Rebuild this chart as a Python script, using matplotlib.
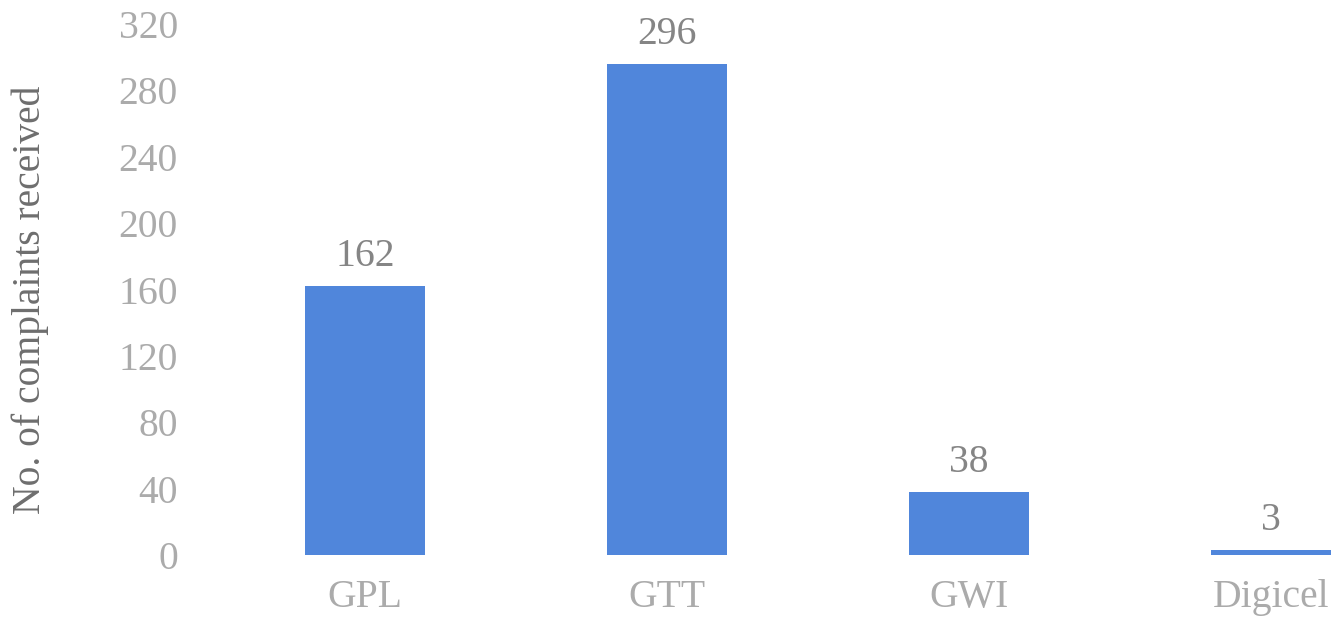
import matplotlib
matplotlib.use("Agg")
import matplotlib.pyplot as plt

categories = ["GPL", "GTT", "GWI", "Digicel"]
values = [162, 296, 38, 3]
yticks = [0, 40, 80, 120, 160, 200, 240, 280, 320]

plt.rcParams['font.family'] = ['Liberation Serif', 'DejaVu Serif']

fig = plt.figure(figsize=(13.37, 6.26), dpi=100)
W, H = 1337, 626
left, right = 214, 1337
bottom, top = 555, 24
ax = fig.add_axes([left / W, 1 - bottom / H, (right - left) / W, (bottom - top) / H])

x = list(range(len(categories)))
bars = ax.bar(x, values, width=0.4, color='#5086db')
ax.set_xlim(-0.5, 3 + (1337 - 1271) / 302)
ax.set_ylim(0, 320)
ax.set_yticks(yticks)
ax.set_xticks(x)
ax.set_xticklabels(categories)
for s in ax.spines.values():
    s.set_visible(False)
ax.tick_params(axis='y', length=0, pad=26, labelsize=28.5, labelcolor='#ababab')
ax.tick_params(axis='x', length=0, pad=17, labelsize=28.5, labelcolor='#ababab')

for xi, v in zip(x, values):
    ax.annotate(str(v), (xi, v), xytext=(0, 8), textcoords='offset points',
                ha='center', va='bottom', fontsize=28.5, color='#858585')

fig.text(30 / W, 1 - 300 / H, "No. of complaints received", rotation=90,
         ha='center', va='center', fontsize=28.5, color='#6e6e6e')

fig.savefig("out.png", dpi=100)
